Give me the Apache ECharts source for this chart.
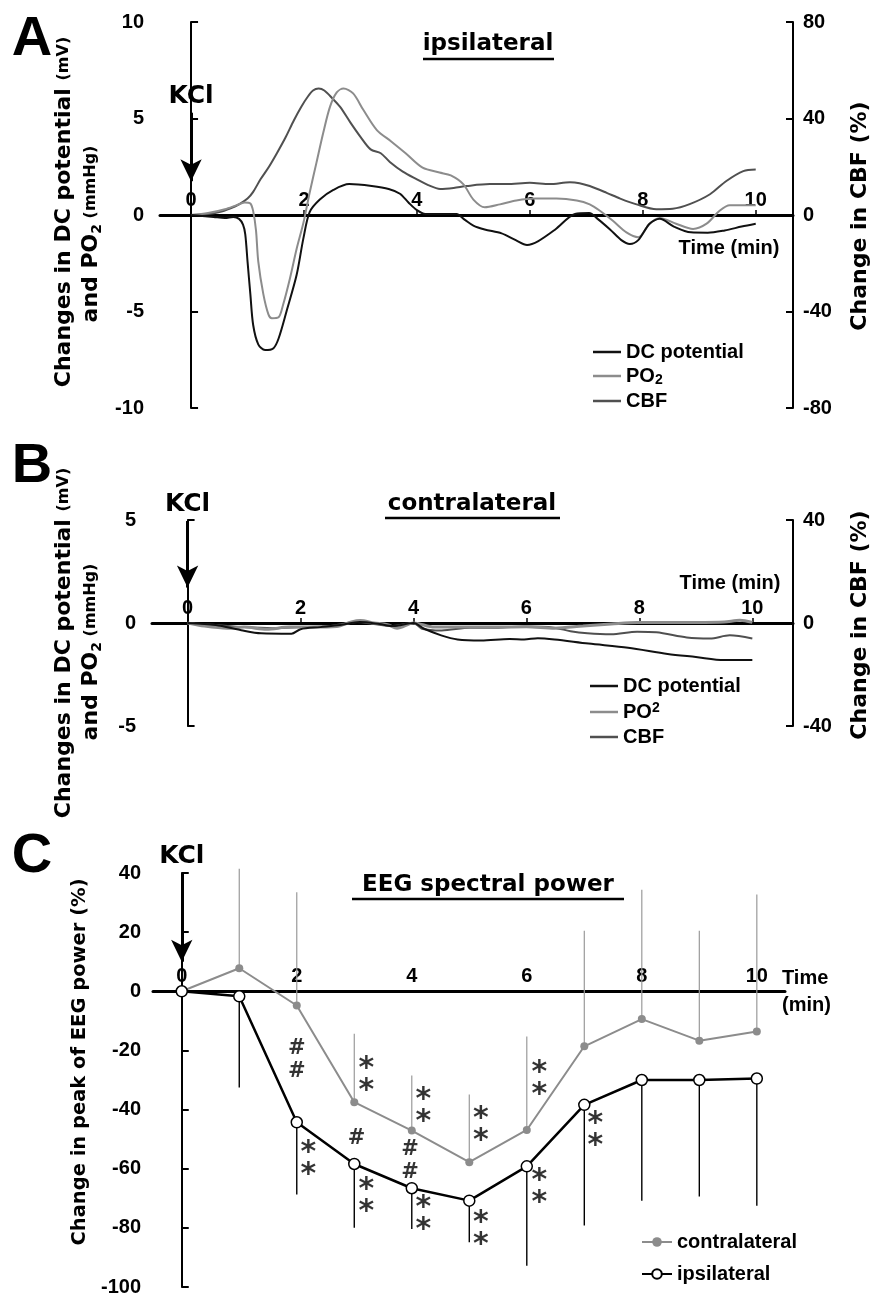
<!DOCTYPE html>
<html><head><meta charset="utf-8">
<script src="https://cdn.jsdelivr.net/npm/echarts@6/dist/echarts.min.js"></script>
<style>html,body{margin:0;padding:0;background:#fff}#c{width:877px;height:1297px}</style>
</head><body><div id="c"></div>
<script>
// ---------- Panel A (ipsilateral) ----------
const aDcT  = [0,0.2,0.4,0.6,0.75,0.85,0.92,0.96,1.0,1.05,1.1,1.19,1.31,1.46,1.55,1.69,1.87,1.99,2.1,2.28,2.52,2.8,3.2,3.5,3.7,3.85,4.0,4.15,4.5,4.7,4.85,5.0,5.2,5.5,5.75,5.95,6.15,6.45,6.8,7.05,7.2,7.42,7.62,7.77,7.92,8.12,8.3,8.55,8.85,9.15,9.45,9.75,10.0];
const aDcV  = [0,-0.05,-0.1,-0.15,-0.1,-0.2,-0.5,-1.0,-2.4,-4.1,-5.7,-6.7,-7.0,-6.9,-6.4,-5.0,-3.1,-1.2,0.15,0.8,1.3,1.6,1.5,1.35,1.1,0.65,0.25,0.05,0.05,0.05,-0.25,-0.55,-0.75,-0.95,-1.3,-1.55,-1.35,-0.75,0.05,0.1,-0.2,-0.75,-1.3,-1.5,-1.3,-0.45,-0.2,-0.6,-0.9,-0.92,-0.8,-0.6,-0.45];
const aPo2T = [0,0.3,0.6,0.8,0.95,1.05,1.1,1.15,1.19,1.28,1.37,1.43,1.55,1.63,1.75,1.87,1.99,2.1,2.22,2.34,2.46,2.58,2.7,2.87,3.05,3.29,3.55,3.8,4.1,4.4,4.6,4.82,5.0,5.2,5.47,5.76,6.1,6.47,6.83,7.06,7.24,7.47,7.71,7.92,8.12,8.3,8.59,8.89,9.13,9.36,9.54,10.0];
const aPo2V = [0,0.1,0.3,0.5,0.65,0.6,0.2,-0.8,-2.4,-4.1,-5.15,-5.35,-5.3,-4.65,-3.3,-1.75,-0.4,1.15,2.7,4.25,5.6,6.35,6.55,6.3,5.45,4.4,3.8,3.2,2.45,2.2,2.05,1.6,0.8,0.4,0.55,0.75,0.85,0.85,0.75,0.55,0.22,-0.3,-0.9,-1.15,-0.45,-0.15,-0.45,-0.72,-0.45,0.22,0.5,0.5];
const aCbfT = [0,0.3,0.5,0.7,0.85,1.0,1.1,1.23,1.38,1.52,1.67,1.82,1.95,2.06,2.16,2.26,2.36,2.5,2.64,2.82,3.0,3.18,3.36,3.52,3.75,4.0,4.2,4.41,4.65,4.88,5.29,5.59,6.0,6.35,6.71,6.88,7.06,7.36,7.6,7.89,8.24,8.53,8.83,9.19,9.48,9.78,10.0];
const aCbfV = [0,0.4,1.2,2.8,4.4,6.8,9.6,14.8,20,25.6,32,39.2,44.8,48.8,51.6,52.4,51.6,48.4,44.8,38.4,32.4,27.2,25.6,22,18,14.8,12.4,10.8,11.2,12,12.8,12.8,13.4,12.8,13.6,13.2,12,9.2,6.8,4.4,2.4,2.6,4.5,8.6,14.1,18.2,18.9];

// ---------- Panel B (contralateral) ----------
const bDcT  = [0,0.5,0.95,1.3,1.84,2.0,2.35,2.7,3.05,3.4,3.64,4.0,4.19,4.49,4.78,5.2,5.7,5.96,6.2,6.5,7.1,7.8,8.5,9.0,9.5,10.0];
const bDcV  = [0,-0.1,-0.35,-0.5,-0.52,-0.3,-0.2,-0.1,0.05,-0.05,-0.15,0,-0.28,-0.6,-0.8,-0.85,-0.78,-0.8,-0.74,-0.8,-1.0,-1.2,-1.5,-1.65,-1.8,-1.8];
const bPo2T = [0,0.3,0.7,1.0,1.4,1.8,2.2,2.64,2.9,3.06,3.3,3.54,3.71,4.0,4.37,4.96,5.5,6.0,6.5,7.0,7.5,7.96,8.5,9.0,9.5,9.78,10.0];
const bPo2V = [0,-0.15,-0.25,-0.2,-0.3,-0.2,-0.2,-0.17,0.05,0.12,0,-0.08,-0.25,0,-0.2,-0.2,-0.2,-0.18,-0.25,-0.15,-0.05,0.03,0.03,0.03,0.05,0.13,0.03];
const bCbfT = [0,0.5,1.0,1.5,2.0,2.5,3.0,3.3,3.6,4.0,4.15,4.5,5.0,5.5,5.96,6.49,6.78,7.08,7.5,7.96,8.3,8.84,9.25,9.6,10.0];
const bCbfV = [0,-0.8,-1.6,-2,-1.6,-1.2,0.4,-0.4,-1.2,0,-2.2,-2.9,-1.8,-1.8,-1.4,-1.8,-3.2,-4.0,-4.4,-3.4,-3.6,-5.6,-6.0,-4.8,-6.0];

// ---------- Panel C (EEG spectral power) ----------
const cTime      = [0,1,2,3,4,5,6,7,8,9,10];
const cContra    = [0,7.8,-4.8,-37.5,-47.1,-57.8,-46.9,-18.6,-9.4,-16.7,-13.6];
const cContraSD  = [0,33.6,38.3,23.1,18.6,22.9,31.6,39.1,43.7,37.2,46.3];
const cIpsi      = [0,-1.7,-44.3,-58.4,-66.6,-70.8,-59.2,-38.4,-30.0,-30.0,-29.5];
const cIpsiSD    = [0,30.8,24.4,21.6,13.8,14.1,33.6,40.8,40.8,39.4,43.0];
const cNoteX     = [2.0,3.21,4.2,5.2,6.22,2.2,3.04,3.21,3.97,4.2,5.2,6.22,7.19];
const cNoteY     = [-23.4,-28.5,-38.7,-45.4,-29.6,-56.7,-49.9,-69.4,-57.3,-75.3,-80.4,-66.3,-47.1];
const cNoteText  = ['#\n#','*\n*','*\n*','*\n*','*\n*','*\n*','#','*\n*','#\n#','*\n*','*\n*','*\n*','*\n*'];

const xTicks = [0,2,4,6,8,10];

// ---------- styling ----------
const ARIAL = 'Liberation Sans, Arial, sans-serif';
const WIDE = 'DejaVu Sans, Liberation Sans, sans-serif';
const cDC = '#111111', cPO2 = '#8c8c8c', cCBF = '#505050';
const zip = (t, v) => t.map((x, i) => [x, v[i]]);

// x axis drawn along y = 0 (offset moves it from the grid top down to the zero line)
function xAxisTop(gridIndex, min, max, showTicks, offset) {
  return {
    type: 'value', gridIndex, min, max, position: 'top', offset,
    axisLine: { onZero: false, lineStyle: { color: '#000', width: 3 } },
    axisTick: { show: showTicks, customValues: xTicks, length: 5, lineStyle: { color: '#000', width: 1.5 } },
    axisLabel: { customValues: xTicks, margin: 5, fontSize: 20, fontWeight: 'bold', fontFamily: ARIAL, color: '#000' },
    splitLine: { show: false }
  };
}
function yAxis(gridIndex, pos, min, max, interval, margin) {
  return {
    type: 'value', gridIndex, position: pos, min, max, interval,
    axisLine: { show: true, lineStyle: { color: '#000', width: 2 } },
    axisTick: { show: true, inside: true, length: 7, lineStyle: { color: '#000', width: 2 } },
    axisLabel: { margin, fontSize: 20, fontWeight: 'bold', fontFamily: ARIAL, color: '#000' },
    splitLine: { show: false }
  };
}
const arrowML = (y0, y1) => ({
  silent: true, symbol: ['none', 'arrow'], symbolSize: [16, 22],
  lineStyle: { color: '#000', width: 3, type: 'solid' },
  label: { show: true, position: 'start', formatter: 'KCl', distance: 4, fontSize: 25, fontWeight: 'bold', fontFamily: WIDE, color: '#000' },
  data: [[{ coord: [0, y0] }, { coord: [0, y1] }]]
});
const lineSeries = (name, xi, yi, data, color, extra) => Object.assign({
  type: 'line', name, xAxisIndex: xi, yAxisIndex: yi, data, symbol: 'none', smooth: 0.3,
  lineStyle: { color, width: 2 }, itemStyle: { color }, z: 3
}, extra || {});

const errBar = (color, width) => function (params, api) {
  const p0 = api.coord([api.value(0), api.value(1)]);
  const p1 = api.coord([api.value(0), api.value(2)]);
  return { type: 'line', shape: { x1: p0[0], y1: p0[1], x2: p1[0], y2: p1[1] }, style: { stroke: color, lineWidth: width } };
};

const legendText = (rich2) => ({
  formatter: n => n === 'PO2' ? '{m|PO}{s|2}' : '{m|' + n + '}',
  textStyle: { rich: {
    m: { fontSize: 20, fontWeight: 'bold', fontFamily: ARIAL, color: '#000', lineHeight: 22 },
    s: { fontSize: 14, fontWeight: 'bold', fontFamily: ARIAL, color: '#000', lineHeight: 22, verticalAlign: rich2 }
  } }
});

const txt = (text, x, y, size, opts) => Object.assign({
  type: 'text', x, y, silent: true,
  style: Object.assign({ text, fontSize: size, fontWeight: 'bold', fontFamily: WIDE, fill: '#000', align: 'center', verticalAlign: 'middle' }, (opts && opts.style) || {})
}, (opts && opts.el) || {});
const rotTitle = (text, rich, x, y) => ({
  type: 'text', x, y, rotation: Math.PI / 2, silent: true,
  style: { text, rich, fill: '#000', align: 'center', verticalAlign: 'middle', fontFamily: WIDE, fontWeight: 'bold', fontSize: 22 }
});
const richAx = {
  m: { fontSize: 22, fontWeight: 'bold', fontFamily: WIDE, color: '#000' },
  c: { fontSize: 19.5, fontWeight: 'bold', fontFamily: WIDE, color: '#000' },
  u: { fontSize: 16, fontWeight: 'bold', fontFamily: WIDE, color: '#000' },
  s: { fontSize: 14, fontWeight: 'bold', fontFamily: WIDE, color: '#000', verticalAlign: 'bottom', lineHeight: 26 }
};
const uline = (x1, x2, y) => ({ type: 'line', silent: true, shape: { x1, y1: y, x2, y2: y }, style: { stroke: '#000', lineWidth: 2.5 } });

const option = {
  animation: false,
  backgroundColor: '#fff',
  grid: [
    { left: 160, right: 84, top: 22, height: 386 },
    { left: 152, right: 84, top: 520, height: 206 },
    { left: 153, right: 92, top: 873, height: 415 }
  ],
  xAxis: [
    xAxisTop(0, -0.55, 10.66, true, -193),
    xAxisTop(1, -0.63, 10.72, true, -103),
    xAxisTop(2, -0.5, 10.49, false, -118.6)
  ],
  yAxis: [
    yAxis(0, 'left', -10, 10, 5, 16),
    yAxis(0, 'right', -80, 80, 40, 10),
    yAxis(1, 'left', -5, 5, 5, 16),
    yAxis(1, 'right', -40, 40, 40, 10),
    yAxis(2, 'left', -100, 40, 20, 12)
  ],
  legend: [
    Object.assign({ data: ['DC potential', 'PO2', 'CBF'], orient: 'vertical', left: 588, top: 337, icon: 'rect', itemWidth: 28, itemHeight: 2.5, itemGap: 4, selectedMode: false }, legendText('bottom')),
    Object.assign({ data: ['DC potential', 'PO2', 'CBF'], orient: 'vertical', left: 585, top: 671, icon: 'rect', itemWidth: 28, itemHeight: 2.5, itemGap: 5, selectedMode: false }, legendText('top')),
    { data: ['contralateral', 'ipsilateral'], orient: 'vertical', left: 636, top: 1227, itemWidth: 30, itemHeight: 12, itemGap: 12, selectedMode: false,
      textStyle: { fontSize: 20, fontWeight: 'bold', fontFamily: ARIAL, color: '#000' } }
  ],
  series: [
    lineSeries('CBF', 0, 1, zip(aCbfT, aCbfV), cCBF),
    lineSeries('PO2', 0, 0, zip(aPo2T, aPo2V), cPO2),
    lineSeries('DC potential', 0, 0, zip(aDcT, aDcV), cDC, { markLine: arrowML(5.3, 1.75), z: 4 }),
    lineSeries('CBF', 1, 3, zip(bCbfT, bCbfV), cCBF),
    lineSeries('PO2', 1, 2, zip(bPo2T, bPo2V), cPO2, { lineStyle: { color: cPO2, width: 3 } }),
    lineSeries('DC potential', 1, 2, zip(bDcT, bDcV), cDC, { markLine: arrowML(4.95, 1.72), z: 4 }),
    { type: 'custom', xAxisIndex: 2, yAxisIndex: 4, silent: true, z: 1, renderItem: errBar('#9a9a9a', 1.2),
      data: cTime.map((t, i) => [t, cContra[i], cContra[i] + cContraSD[i]]) },
    { type: 'custom', xAxisIndex: 2, yAxisIndex: 4, silent: true, z: 1, renderItem: errBar('#000', 1.4),
      data: cTime.map((t, i) => [t, cIpsi[i], cIpsi[i] - cIpsiSD[i]]) },
    { type: 'line', name: 'contralateral', xAxisIndex: 2, yAxisIndex: 4, data: zip(cTime, cContra),
      symbol: 'circle', symbolSize: 8, lineStyle: { color: '#8c8c8c', width: 2 }, itemStyle: { color: '#8c8c8c' }, z: 3,
      markLine: arrowML(40, 10) },
    { type: 'line', name: 'ipsilateral', xAxisIndex: 2, yAxisIndex: 4, data: zip(cTime, cIpsi),
      symbol: 'circle', symbolSize: 11, lineStyle: { color: '#000', width: 2.5 }, itemStyle: { color: '#fff', borderColor: '#000', borderWidth: 1.5 }, z: 4 },
    { type: 'scatter', xAxisIndex: 2, yAxisIndex: 4, silent: true, symbolSize: 0, z: 5,
      data: zip(cNoteX, cNoteY),
      label: { show: true, position: 'inside',
        formatter: p => cNoteText[p.dataIndex].split('\n').map(s => s === '*' ? '{a|*}' : '{h|#}').join('\n'),
        rich: {
          a: { fontSize: 30, lineHeight: 22, fontWeight: 'bold', fontFamily: WIDE, color: '#000', padding: [10, 0, 0, 0] },
          h: { fontSize: 21, lineHeight: 23, fontWeight: 'bold', fontFamily: WIDE, color: '#000' }
        } } }
  ],
  graphic: [
    txt('A', 32, 40, 56, { style: { fontFamily: ARIAL } }),
    txt('B', 32, 467, 56, { style: { fontFamily: ARIAL } }),
    txt('C', 32, 857, 56, { style: { fontFamily: ARIAL } }),
    txt('ipsilateral', 488, 44, 23),
    uline(423, 554, 59),
    txt('contralateral', 472, 504, 23),
    uline(385, 560, 518),
    txt('EEG spectral power', 488, 885, 23),
    uline(352, 624, 899),
    txt('Time (min)', 729, 248, 20, { style: { fontFamily: ARIAL } }),
    txt('Time (min)', 730, 583, 20, { style: { fontFamily: ARIAL } }),
    txt('Time', 782, 978, 20, { style: { fontFamily: ARIAL, align: 'left' } }),
    txt('(min)', 782, 1005, 20, { style: { fontFamily: ARIAL, align: 'left' } }),
    rotTitle('{m|Changes in DC potential }{u|(mV)}', richAx, 64, 212),
    rotTitle('{m|and PO}{s|2}{u| (mmHg)}', richAx, 91, 234),
    rotTitle('{m|Change in CBF (%)}', richAx, 860, 216),
    rotTitle('{m|Changes in DC potential }{u|(mV)}', richAx, 64, 643),
    rotTitle('{m|and PO}{s|2}{u| (mmHg)}', richAx, 91, 652),
    rotTitle('{m|Change in CBF (%)}', richAx, 860, 625),
    rotTitle('{c|Change in peak of EEG power (%)}', richAx, 80, 1062)
  ]
};
echarts.init(document.getElementById('c'), null, { renderer: 'canvas' }).setOption(option);
</script>
</body></html>
